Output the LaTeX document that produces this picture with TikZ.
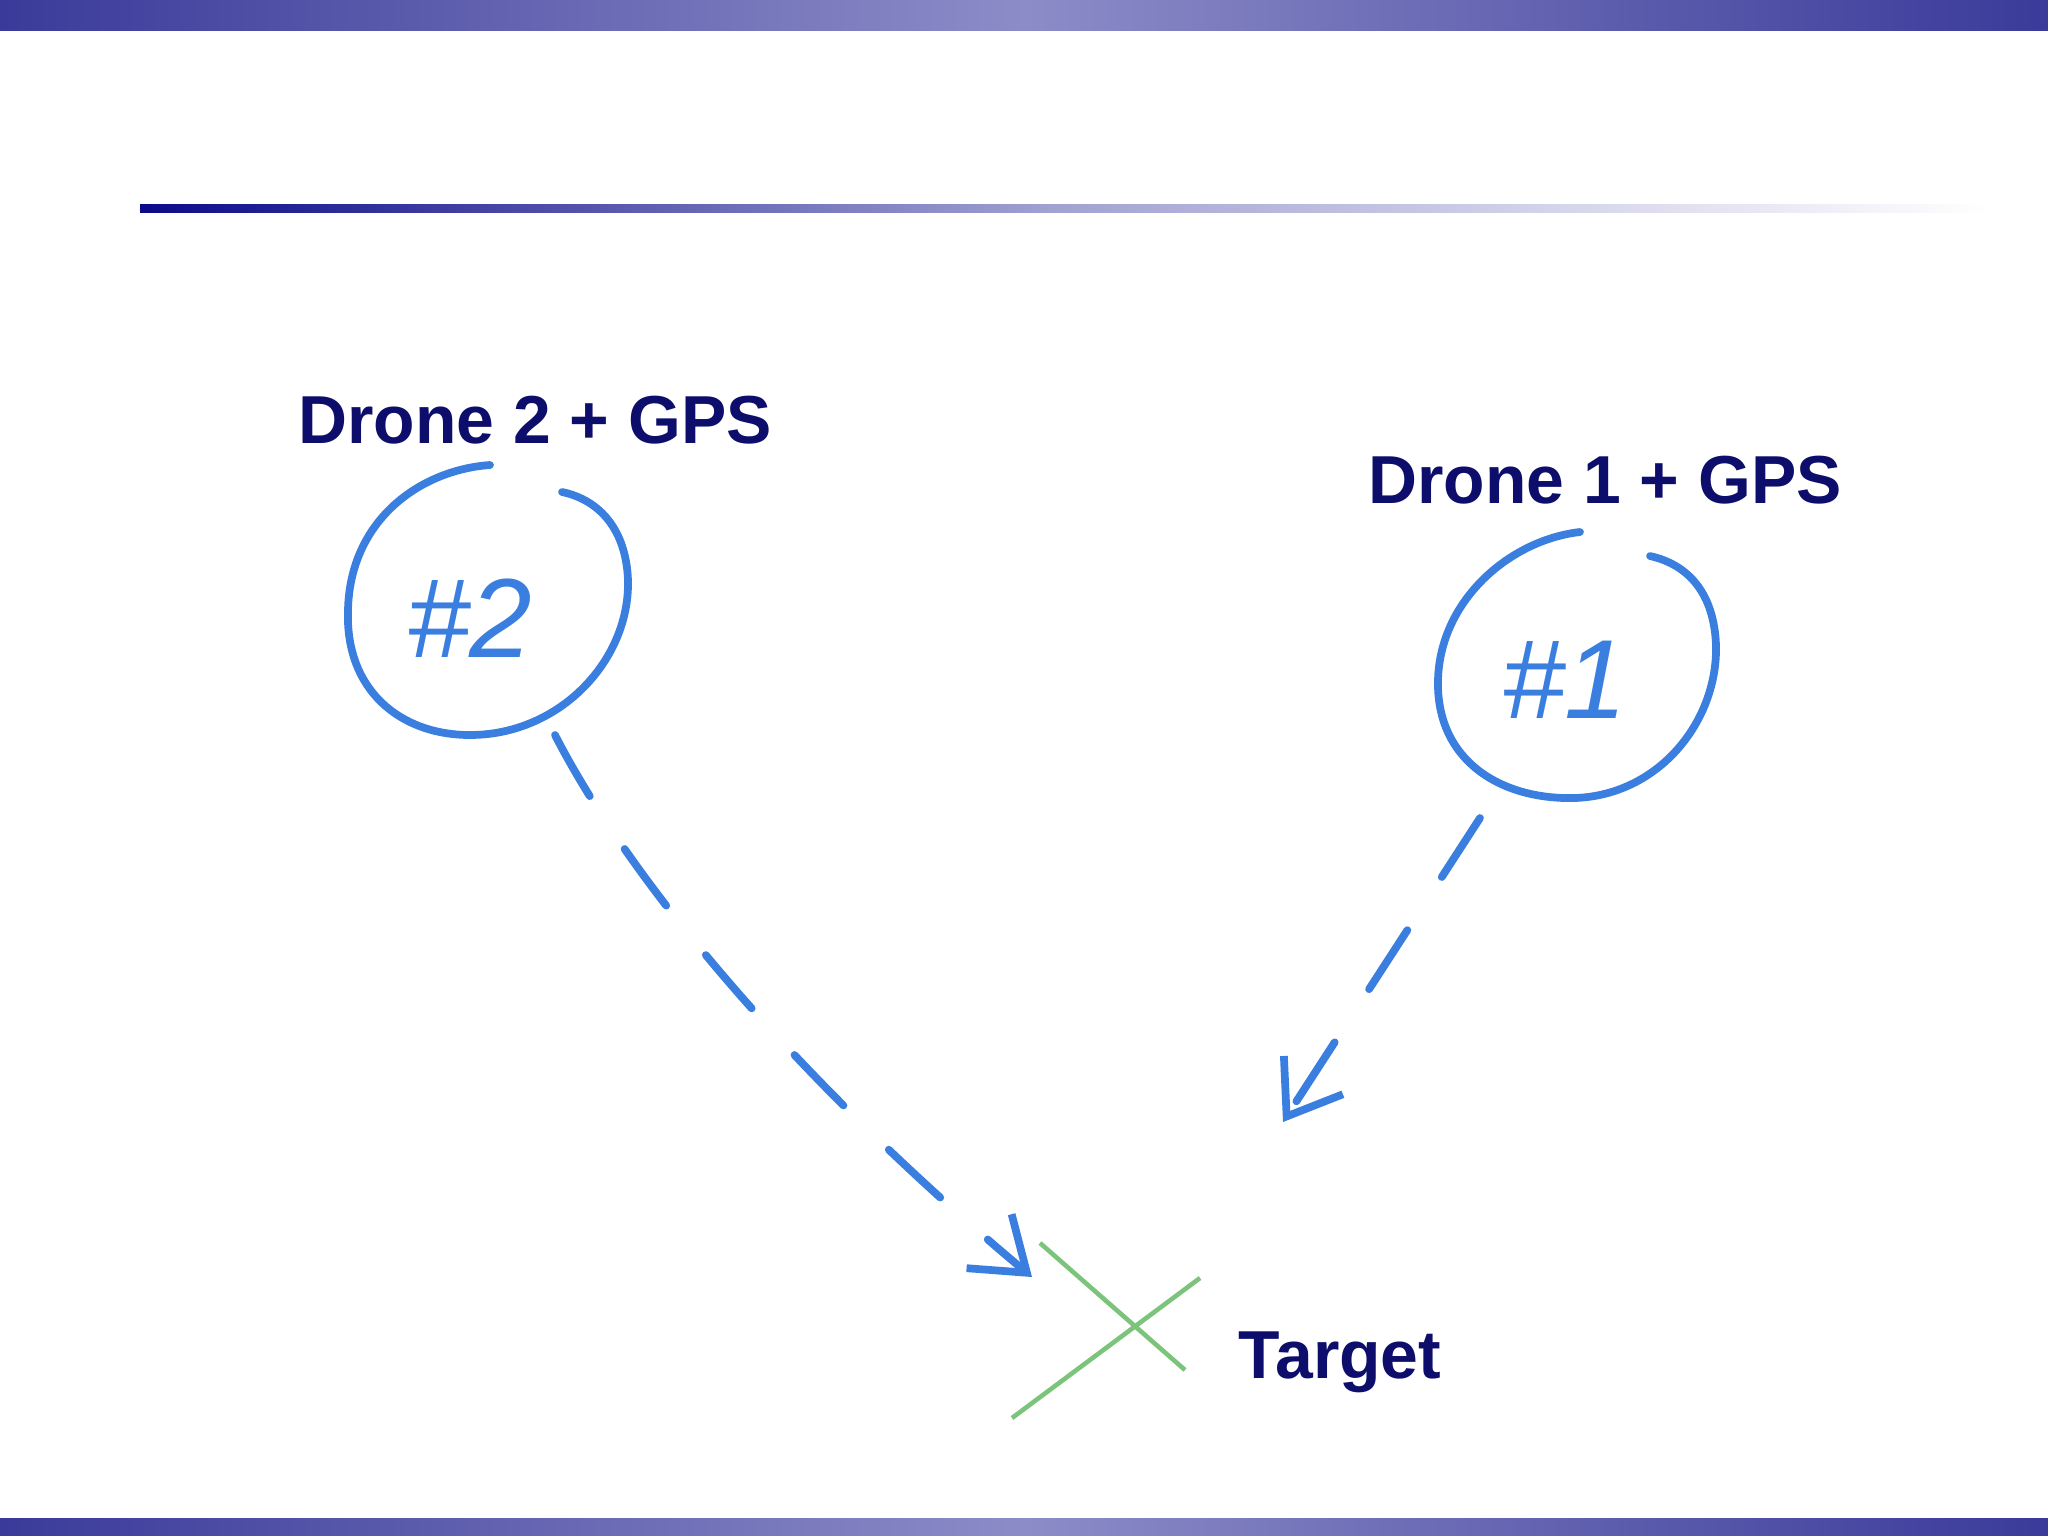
\documentclass[tikz,border=0pt]{standalone}
\usepackage{fontspec}
\setmainfont{Liberation Sans}
\usetikzlibrary{arrows.meta,shapes.geometric}
\definecolor{navy}{HTML}{0D0D6B}
\definecolor{barA}{HTML}{3A3A9A}
\definecolor{barB}{HTML}{8C8CC8}
\definecolor{pen}{HTML}{3A7FE0}
\definecolor{grn}{HTML}{7CC47C}
\begin{document}
\begin{tikzpicture}[x=0.01cm,y=-0.01cm,
  lbl/.style={font=\bfseries\fontsize{19.3}{23}\selectfont,text=navy,inner sep=0},
  hand/.style={draw=pen,line width=2.2pt,line cap=round},
  dash2/.style={hand,dash pattern=on 20pt off 18pt},
  tip/.style={-{Straight Barb[length=14pt,width=20pt,line width=2.2pt]}}]
\useasboundingbox (0,0) rectangle (2048,1536);
\fill[white] (0,0) rectangle (2048,1536);
\shade[left color=barA,right color=barB] (0,0) rectangle (1024,30);
\shade[left color=barB,right color=barA] (1024,0) rectangle (2048,30);
\shade[left color=barA,right color=barB] (0,1518) rectangle (1024,1536);
\shade[left color=barB,right color=barA] (1024,1518) rectangle (2048,1536);
\shade[left color=navy!80!blue,right color=white,middle color=barB!80] (140,204) rectangle (1990,212);
\node[lbl] (l2) at (535,420) {Drone 2 + GPS};
\node[lbl] (l1) at (1605,480) {Drone 1 + GPS};
\node[lbl] (lt) at (1340,1362) {Target};
\node[ellipse,minimum width=280,minimum height=255] (d2) at (488,615) {};
\node[ellipse,minimum width=280,minimum height=255] (d1) at (1578,680) {};
\draw[hand] (490,465) .. controls (420,470) and (350,520) .. (348,610)
  .. controls (345,690) and (400,735) .. (470,735)
  .. controls (560,735) and (630,660) .. (628,580)
  .. controls (626,530) and (600,500) .. (562,492);
\draw[hand] (1580,532) .. controls (1510,540) and (1440,600) .. (1438,680)
  .. controls (1436,760) and (1500,800) .. (1575,798)
  .. controls (1660,795) and (1718,720) .. (1716,645)
  .. controls (1714,595) and (1690,565) .. (1650,556);
\node[text=pen,font=\itshape\fontsize{32}{36}\selectfont] (t2) at (470,618) {\#2};
\node[text=pen,font=\itshape\fontsize{32}{36}\selectfont] (t1) at (1565,680) {\#1};
\coordinate (tg) at (1130,1325);
\coordinate (a2s) at (555,735);
\coordinate (a2e) at (1032,1277);
\coordinate (a1s) at (1480,818);
\coordinate (a1e) at (1283,1122);
\draw[dash2,tip] (a2s) .. controls (640,900) and (820,1100) .. (a2e);
\draw[dash2,tip] (a1s) -- (a1e);
\draw[draw=grn,line width=1.3pt] (1040,1243) -- (1185,1370);
\draw[draw=grn,line width=1.3pt] (1200,1278) -- (1012,1418);
\end{tikzpicture}
\end{document}
